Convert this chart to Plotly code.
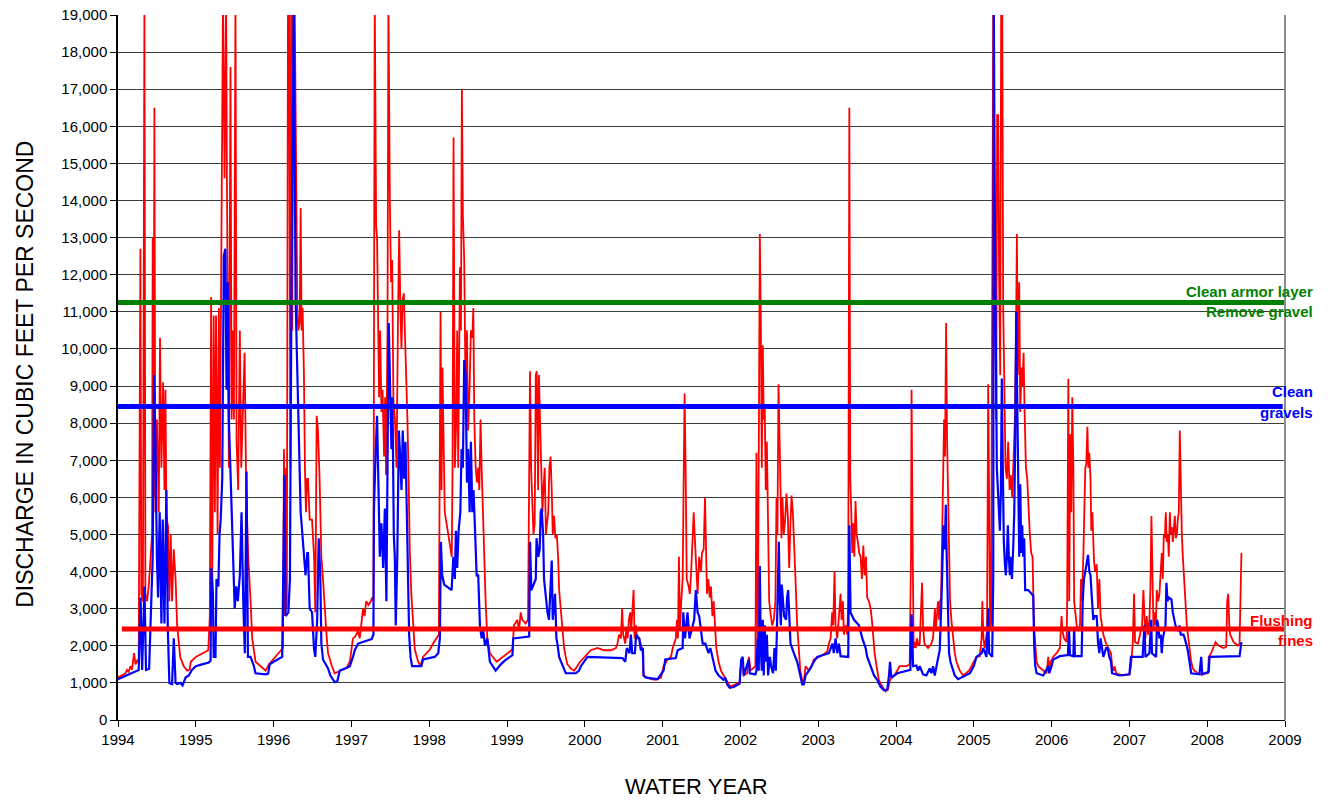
import plotly.graph_objects as go

# ---------------- data ----------------
# decimal water year, discharge in thousand cubic feet per second
red_year = [
    1994.000, 1994.094, 1994.115, 1994.137, 1994.160, 1994.180, 1994.206, 1994.225, 1994.245, 1994.266,
    1994.288, 1994.300, 1994.320, 1994.340, 1994.352, 1994.373, 1994.395, 1994.416, 1994.438, 1994.446,
    1994.456, 1994.468, 1994.480, 1994.500, 1994.524, 1994.540, 1994.558, 1994.580, 1994.597, 1994.610,
    1994.622, 1994.644, 1994.660, 1994.678, 1994.695, 1994.717, 1994.740, 1994.760, 1994.800, 1994.845,
    1994.890, 1994.920, 1994.936, 1995.000, 1995.080, 1995.160, 1995.180, 1995.197, 1995.210, 1995.230,
    1995.245, 1995.260, 1995.280, 1995.296, 1995.310, 1995.326, 1995.350, 1995.370, 1995.390, 1995.400,
    1995.425, 1995.446, 1995.460, 1995.476, 1995.490, 1995.510, 1995.524, 1995.545, 1995.566, 1995.584,
    1995.605, 1995.627, 1995.648, 1995.674, 1995.704, 1995.725, 1995.768, 1995.833, 1995.897, 1995.940,
    1996.026, 1996.110, 1996.120, 1996.133, 1996.146, 1996.160, 1996.170, 1996.185, 1996.200, 1996.215,
    1996.227, 1996.240, 1996.253, 1996.270, 1996.290, 1996.305, 1996.318, 1996.335, 1996.348, 1996.360,
    1996.373, 1996.390, 1996.403, 1996.416, 1996.430, 1996.442, 1996.464, 1996.494, 1996.520, 1996.536,
    1996.554, 1996.570, 1996.590, 1996.614, 1996.635, 1996.657, 1996.680, 1996.700, 1996.720, 1996.750,
    1996.785, 1996.850, 1996.936, 1996.980, 1997.020, 1997.050, 1997.086, 1997.107, 1997.130, 1997.150,
    1997.170, 1997.190, 1997.220, 1997.250, 1997.266, 1997.283, 1997.300, 1997.318, 1997.330, 1997.343,
    1997.356, 1997.370, 1997.386, 1997.400, 1997.420, 1997.433, 1997.446, 1997.464, 1997.476, 1997.494,
    1997.510, 1997.524, 1997.540, 1997.560, 1997.580, 1997.600, 1997.614, 1997.630, 1997.644, 1997.657,
    1997.674, 1997.687, 1997.704, 1997.720, 1997.738, 1997.750, 1997.770, 1997.794, 1997.815, 1997.858,
    1997.888, 1997.920, 1997.966, 1998.009, 1998.050, 1998.094, 1998.124, 1998.146, 1998.159, 1998.170,
    1998.185, 1998.200, 1998.245, 1998.290, 1998.300, 1998.313, 1998.330, 1998.348, 1998.360, 1998.373,
    1998.395, 1998.408, 1998.420, 1998.433, 1998.450, 1998.468, 1998.485, 1998.500, 1998.520, 1998.536,
    1998.554, 1998.567, 1998.580, 1998.597, 1998.614, 1998.630, 1998.644, 1998.660, 1998.674, 1998.690,
    1998.704, 1998.725, 1998.747, 1998.780, 1998.867, 1998.953, 1999.070, 1999.090, 1999.133, 1999.155,
    1999.176, 1999.197, 1999.240, 1999.270, 1999.283, 1999.296, 1999.310, 1999.326, 1999.340, 1999.356,
    1999.370, 1999.382, 1999.400, 1999.410, 1999.425, 1999.440, 1999.455, 1999.468, 1999.485, 1999.500,
    1999.530, 1999.545, 1999.560, 1999.575, 1999.588, 1999.605, 1999.622, 1999.640, 1999.657, 1999.670,
    1999.690, 1999.717, 1999.734, 1999.755, 1999.777, 1999.820, 1999.863, 1999.940, 2000.013, 2000.077,
    2000.163, 2000.250, 2000.335, 2000.400, 2000.420, 2000.440, 2000.464, 2000.480, 2000.494, 2000.520,
    2000.532, 2000.550, 2000.567, 2000.584, 2000.596, 2000.627, 2000.640, 2000.657, 2000.670, 2000.700,
    2000.742, 2000.755, 2000.850, 2000.914, 2000.980, 2001.013, 2001.064, 2001.107, 2001.130, 2001.170,
    2001.185, 2001.197, 2001.210, 2001.223, 2001.240, 2001.258, 2001.270, 2001.283, 2001.296, 2001.310,
    2001.335, 2001.350, 2001.365, 2001.386, 2001.400, 2001.412, 2001.425, 2001.450, 2001.470, 2001.494,
    2001.506, 2001.528, 2001.545, 2001.558, 2001.570, 2001.588, 2001.605, 2001.622, 2001.640, 2001.657,
    2001.674, 2001.690, 2001.720, 2001.750, 2001.785, 2001.830, 2001.870, 2001.957, 2001.990, 2002.010,
    2002.030, 2002.043, 2002.086, 2002.110, 2002.130, 2002.193, 2002.206, 2002.223, 2002.236, 2002.250,
    2002.262, 2002.275, 2002.288, 2002.300, 2002.313, 2002.326, 2002.340, 2002.352, 2002.370, 2002.386,
    2002.408, 2002.430, 2002.450, 2002.464, 2002.476, 2002.490, 2002.502, 2002.515, 2002.528, 2002.540,
    2002.558, 2002.575, 2002.592, 2002.610, 2002.627, 2002.644, 2002.657, 2002.674, 2002.687, 2002.708,
    2002.730, 2002.750, 2002.770, 2002.794, 2002.815, 2002.837, 2002.880, 2002.923, 2002.944, 2003.030,
    2003.116, 2003.137, 2003.160, 2003.180, 2003.193, 2003.210, 2003.223, 2003.245, 2003.266, 2003.288,
    2003.300, 2003.318, 2003.330, 2003.352, 2003.373, 2003.386, 2003.400, 2003.412, 2003.425, 2003.438,
    2003.450, 2003.464, 2003.480, 2003.494, 2003.510, 2003.528, 2003.545, 2003.562, 2003.580, 2003.596,
    2003.614, 2003.630, 2003.652, 2003.674, 2003.690, 2003.708, 2003.725, 2003.750, 2003.780, 2003.824,
    2003.867, 2003.897, 2003.923, 2003.996, 2004.047, 2004.133, 2004.176, 2004.193, 2004.200, 2004.215,
    2004.227, 2004.240, 2004.253, 2004.270, 2004.288, 2004.305, 2004.320, 2004.335, 2004.348, 2004.365,
    2004.412, 2004.455, 2004.476, 2004.500, 2004.510, 2004.524, 2004.540, 2004.554, 2004.567, 2004.580,
    2004.592, 2004.605, 2004.618, 2004.630, 2004.644, 2004.657, 2004.670, 2004.682, 2004.695, 2004.712,
    2004.734, 2004.755, 2004.777, 2004.820, 2004.863, 2004.940, 2005.000, 2005.034, 2005.077, 2005.100,
    2005.110, 2005.124, 2005.140, 2005.170, 2005.185, 2005.197, 2005.210, 2005.223, 2005.236, 2005.250,
    2005.262, 2005.275, 2005.288, 2005.300, 2005.313, 2005.326, 2005.340, 2005.352, 2005.365, 2005.378,
    2005.390, 2005.408, 2005.425, 2005.442, 2005.460, 2005.476, 2005.494, 2005.510, 2005.528, 2005.540,
    2005.554, 2005.567, 2005.584, 2005.597, 2005.614, 2005.627, 2005.640, 2005.652, 2005.670, 2005.687,
    2005.704, 2005.720, 2005.738, 2005.755, 2005.773, 2005.790, 2005.807, 2005.828, 2005.893, 2005.936,
    2005.957, 2005.970, 2005.987, 2006.020, 2006.064, 2006.107, 2006.128, 2006.140, 2006.160, 2006.193,
    2006.200, 2006.215, 2006.227, 2006.240, 2006.253, 2006.266, 2006.280, 2006.290, 2006.310, 2006.322,
    2006.343, 2006.365, 2006.378, 2006.390, 2006.408, 2006.420, 2006.433, 2006.446, 2006.460, 2006.472,
    2006.485, 2006.500, 2006.510, 2006.524, 2006.536, 2006.545, 2006.558, 2006.580, 2006.596, 2006.614,
    2006.630, 2006.665, 2006.700, 2006.734, 2006.764, 2006.777, 2006.794, 2006.810, 2006.828, 2006.914,
    2007.000, 2007.020, 2007.043, 2007.060, 2007.073, 2007.110, 2007.150, 2007.163, 2007.180, 2007.193,
    2007.206, 2007.223, 2007.240, 2007.257, 2007.270, 2007.283, 2007.296, 2007.310, 2007.322, 2007.340,
    2007.352, 2007.370, 2007.386, 2007.403, 2007.416, 2007.430, 2007.442, 2007.455, 2007.468, 2007.480,
    2007.494, 2007.506, 2007.520, 2007.532, 2007.545, 2007.558, 2007.570, 2007.584, 2007.596, 2007.610,
    2007.622, 2007.635, 2007.648, 2007.660, 2007.674, 2007.687, 2007.704, 2007.720, 2007.738, 2007.755,
    2007.773, 2007.794, 2007.815, 2007.837, 2007.900, 2008.010, 2008.020, 2008.050, 2008.107, 2008.150,
    2008.210, 2008.245, 2008.257, 2008.270, 2008.283, 2008.296, 2008.340, 2008.395, 2008.416, 2008.430,
    2008.440,
]
red_kcfs = [
    1.15, 1.25, 1.35, 1.30, 1.45, 1.35, 1.80, 1.50, 1.60, 1.55,
    12.7, 3.4, 3.2, 19.5, 3.4, 3.2, 3.6, 4.4, 5.0, 13.0,
    6.0, 16.5, 5.6, 8.1, 5.6, 10.3, 6.8, 9.1, 6.2, 8.9,
    5.5, 5.2, 3.2, 5.0, 3.2, 4.6, 3.8, 2.55, 1.7, 1.45,
    1.33, 1.35, 1.57, 1.70, 1.80, 1.88, 2.8, 11.4, 3.2, 10.9,
    5.6, 10.9, 5.0, 11.1, 6.8, 11.2, 19.5, 14.6, 19.5, 14.6,
    6.8, 17.6, 8.1, 10.5, 8.1, 19.5, 7.5, 6.2, 10.5, 6.8,
    8.1, 9.9, 6.2, 4.4, 3.2, 2.2, 1.57, 1.45, 1.33, 1.5,
    1.7, 1.9, 1.94, 7.3, 2.8, 6.8, 3.0, 19.5, 19.5, 6.8,
    19.5, 10.5, 19.5, 19.5, 13.8, 11.1, 10.5, 10.7, 13.8, 10.5,
    11.1, 9.3, 6.8, 5.6, 6.5, 6.5, 5.4, 5.4, 4.4, 2.9,
    8.2, 7.8, 6.6, 4.4, 3.8, 3.0, 2.3, 1.8, 1.63, 1.45,
    1.26, 1.33, 1.4, 1.57, 2.2, 2.25, 2.4, 2.2, 2.7, 3.0,
    2.8, 3.2, 3.1, 3.2, 3.3, 3.2, 19.5, 13.3, 13.0, 10.5,
    8.7, 10.5, 8.3, 8.9, 7.1, 8.7, 6.6, 10.5, 19.5, 14.0,
    11.8, 12.4, 8.6, 8.1, 6.8, 11.0, 13.2, 11.0, 10.0, 11.3,
    11.5, 10.5, 9.3, 8.1, 6.2, 4.6, 3.4, 2.55, 1.9, 1.57,
    1.45, 1.7, 1.8, 1.9, 2.06, 2.2, 2.3, 11.0, 6.2, 9.5,
    6.8, 5.6, 5.0, 4.4, 6.8, 15.7, 6.8, 8.1, 10.5, 6.8,
    12.2, 10.5, 17.0, 13.6, 12.4, 8.7, 10.5, 7.8, 9.0, 10.5,
    10.3, 11.1, 8.1, 6.8, 6.4, 6.8, 6.2, 8.1, 6.8, 5.6,
    4.7, 3.2, 2.2, 1.8, 1.57, 1.7, 1.9, 2.55, 2.7, 2.4,
    2.9, 2.7, 2.6, 2.7, 6.35, 9.4, 6.8, 5.9, 5.0, 5.3,
    9.3, 9.4, 6.2, 9.3, 8.1, 6.8, 5.6, 6.2, 6.8, 5.0,
    5.6, 6.8, 7.1, 6.2, 5.0, 5.5, 4.9, 5.0, 4.4, 3.5,
    3.0, 2.4, 1.94, 1.7, 1.5, 1.39, 1.33, 1.57, 1.75, 1.88,
    1.94, 1.88, 1.88, 1.94, 2.06, 2.3, 2.2, 3.0, 2.3, 2.06,
    2.4, 2.2, 2.7, 2.9, 2.4, 3.5, 2.2, 2.55, 2.2, 2.2,
    1.88, 1.2, 1.1, 1.08, 1.14, 1.45, 1.63, 1.7, 1.94, 2.2,
    2.7, 2.2, 4.4, 2.4, 3.2, 3.8, 6.35, 8.8, 6.8, 3.8,
    3.6, 3.4, 3.9, 5.0, 5.6, 5.0, 4.4, 3.4, 4.4, 4.0,
    4.5, 4.6, 6.0, 4.1, 3.4, 3.8, 3.3, 3.6, 2.8, 3.2,
    2.55, 1.94, 1.57, 1.33, 1.2, 1.02, 0.9, 0.98, 1.02, 1.57,
    1.63, 1.2, 1.26, 1.7, 1.33, 1.45, 7.2, 1.7, 8.2, 13.1,
    10.9, 6.8, 10.1, 8.1, 8.45, 6.2, 7.5, 5.0, 3.2, 2.9,
    2.55, 2.7, 3.2, 6.0, 5.0, 9.05, 7.5, 5.6, 4.9, 6.0,
    5.0, 5.4, 6.1, 5.5, 4.1, 5.3, 6.05, 5.6, 5.0, 3.8,
    2.55, 1.8, 1.33, 1.08, 1.02, 1.45, 1.33, 1.5, 1.63, 1.72,
    1.84, 2.06, 2.2, 2.9, 2.55, 4.0, 2.55, 2.2, 2.8, 3.4,
    2.7, 3.2, 2.3, 2.55, 2.3, 3.2, 16.5, 6.5, 5.6, 4.5,
    5.3, 4.4, 5.9, 5.0, 4.8, 4.5, 4.4, 3.8, 4.7, 3.9,
    4.4, 3.3, 3.2, 3.0, 2.7, 2.2, 1.8, 1.45, 1.08, 0.9,
    0.77, 0.82, 1.08, 1.26, 1.45, 1.45, 1.5, 4.5, 8.9, 4.5,
    1.94, 2.1, 1.94, 2.2, 2.0, 2.06, 2.8, 3.7, 2.55, 2.06,
    1.94, 2.06, 2.2, 3.0, 2.4, 2.9, 3.2, 2.7, 3.2, 3.3,
    5.0, 7.1, 8.1, 7.1, 10.7, 7.5, 5.6, 3.8, 3.2, 2.7,
    2.2, 1.8, 1.57, 1.33, 1.2, 1.33, 1.57, 1.7, 1.72, 2.2,
    3.2, 2.2, 1.94, 2.4, 9.05, 5.6, 2.4, 2.7, 13.7, 19.5,
    15.4, 11.8, 8.1, 16.3, 16.3, 11.8, 9.3, 19.5, 19.5, 11.1,
    8.7, 6.8, 6.5, 7.5, 6.2, 6.6, 6.0, 6.8, 8.1, 9.9,
    13.1, 9.3, 11.8, 8.3, 9.5, 9.0, 9.9, 8.4, 6.8, 6.5,
    5.6, 5.0, 4.5, 4.4, 2.55, 1.94, 1.57, 1.45, 1.33, 1.26,
    1.7, 1.39, 1.57, 1.7, 1.8, 1.94, 2.8, 2.4, 2.2, 2.1,
    3.2, 9.2, 3.2, 7.7, 5.6, 8.7, 6.8, 3.2, 2.8, 2.55,
    2.4, 2.55, 3.8, 3.2, 4.4, 5.9, 6.8, 6.9, 7.9, 6.8,
    7.2, 6.5, 5.1, 5.6, 4.4, 4.3, 4.0, 4.2, 3.0, 3.8,
    2.8, 2.3, 2.06, 1.94, 1.8, 1.45, 1.33, 1.45, 1.26, 1.2,
    1.23, 1.45, 2.06, 3.4, 2.1, 2.06, 2.4, 2.55, 3.5, 2.55,
    2.2, 2.8, 2.3, 2.7, 3.5, 5.5, 3.2, 2.4, 2.9, 2.55,
    3.5, 3.2, 3.4, 3.9, 4.5, 3.8, 5.0, 4.9, 5.6, 4.8,
    5.0, 4.4, 5.6, 5.0, 5.2, 4.8, 5.2, 5.5, 4.9, 5.0,
    5.4, 5.6, 7.8, 6.2, 5.0, 4.4, 3.9, 3.2, 2.55, 2.2,
    1.94, 1.57, 1.39, 1.33, 1.23, 1.26, 1.7, 1.8, 2.1, 2.0,
    1.94, 1.97, 3.2, 3.4, 2.6, 2.3, 2.1, 2.0, 2.06, 4.0,
    4.5,
]

blue_year = [
    1994.000, 1994.180, 1994.266, 1994.290, 1994.310, 1994.340, 1994.360, 1994.400, 1994.430, 1994.446,
    1994.464, 1994.480, 1994.500, 1994.515, 1994.536, 1994.558, 1994.575, 1994.597, 1994.610, 1994.622,
    1994.640, 1994.660, 1994.695, 1994.717, 1994.740, 1994.760, 1994.800, 1994.830, 1994.870, 1994.910,
    1994.950, 1995.000, 1995.080, 1995.167, 1995.190, 1995.200, 1995.220, 1995.230, 1995.253, 1995.266,
    1995.290, 1995.305, 1995.320, 1995.340, 1995.360, 1995.380, 1995.395, 1995.410, 1995.425, 1995.446,
    1995.468, 1995.490, 1995.500, 1995.520, 1995.540, 1995.566, 1995.588, 1995.610, 1995.630, 1995.652,
    1995.670, 1995.704, 1995.747, 1995.768, 1995.897, 1995.930, 1995.950, 1996.000, 1996.110, 1996.140,
    1996.155, 1996.190, 1996.210, 1996.230, 1996.260, 1996.283, 1996.305, 1996.326, 1996.348, 1996.370,
    1996.390, 1996.410, 1996.433, 1996.442, 1996.464, 1996.494, 1996.520, 1996.536, 1996.560, 1996.580,
    1996.600, 1996.614, 1996.635, 1996.670, 1996.700, 1996.730, 1996.785, 1996.820, 1996.850, 1996.936,
    1996.980, 1997.020, 1997.043, 1997.086, 1997.170, 1997.260, 1997.283, 1997.290, 1997.313, 1997.330,
    1997.343, 1997.365, 1997.386, 1997.408, 1997.430, 1997.450, 1997.464, 1997.480, 1997.500, 1997.515,
    1997.528, 1997.545, 1997.558, 1997.570, 1997.590, 1997.610, 1997.627, 1997.644, 1997.660, 1997.678,
    1997.695, 1997.712, 1997.730, 1997.742, 1997.760, 1997.780, 1997.900, 1997.920, 1998.070, 1998.116,
    1998.137, 1998.150, 1998.167, 1998.193, 1998.288, 1998.310, 1998.330, 1998.343, 1998.360, 1998.378,
    1998.400, 1998.416, 1998.433, 1998.450, 1998.468, 1998.485, 1998.500, 1998.520, 1998.536, 1998.554,
    1998.570, 1998.588, 1998.610, 1998.630, 1998.652, 1998.674, 1998.695, 1998.717, 1998.747, 1998.780,
    1998.854, 1998.920, 1998.970, 1999.070, 1999.080, 1999.285, 1999.296, 1999.313, 1999.370, 1999.380,
    1999.403, 1999.420, 1999.433, 1999.446, 1999.464, 1999.476, 1999.500, 1999.520, 1999.540, 1999.560,
    1999.575, 1999.588, 1999.605, 1999.618, 1999.635, 1999.648, 1999.670, 1999.725, 1999.755, 1999.884,
    1999.927, 1999.950, 1999.990, 2000.034, 2000.485, 2000.520, 2000.540, 2000.575, 2000.592, 2000.610,
    2000.644, 2000.660, 2000.700, 2000.720, 2000.747, 2000.755, 2000.785, 2000.936, 2001.013, 2001.034,
    2001.170, 2001.193, 2001.258, 2001.266, 2001.288, 2001.320, 2001.345, 2001.406, 2001.427, 2001.450,
    2001.470, 2001.490, 2001.515, 2001.550, 2001.590, 2001.614, 2001.657, 2001.680, 2001.720, 2001.785,
    2001.807, 2001.830, 2001.863, 2001.914, 2001.990, 2002.010, 2002.030, 2002.043, 2002.107, 2002.120,
    2002.193, 2002.206, 2002.223, 2002.236, 2002.250, 2002.262, 2002.275, 2002.288, 2002.300, 2002.313,
    2002.326, 2002.340, 2002.356, 2002.378, 2002.395, 2002.420, 2002.438, 2002.455, 2002.468, 2002.480,
    2002.494, 2002.506, 2002.520, 2002.532, 2002.562, 2002.588, 2002.600, 2002.614, 2002.627, 2002.644,
    2002.687, 2002.730, 2002.770, 2002.794, 2002.815, 2002.837, 2002.900, 2002.944, 2002.987, 2003.137,
    2003.185, 2003.200, 2003.223, 2003.245, 2003.266, 2003.288, 2003.386, 2003.400, 2003.416, 2003.460,
    2003.524, 2003.567, 2003.610, 2003.630, 2003.674, 2003.717, 2003.760, 2003.800, 2003.845, 2003.888,
    2003.910, 2003.923, 2003.940, 2004.017, 2004.185, 2004.200, 2004.220, 2004.262, 2004.283, 2004.305,
    2004.348, 2004.390, 2004.433, 2004.455, 2004.476, 2004.498, 2004.520, 2004.540, 2004.562, 2004.584,
    2004.597, 2004.610, 2004.627, 2004.640, 2004.652, 2004.670, 2004.682, 2004.700, 2004.717, 2004.755,
    2004.798, 2004.884, 2004.950, 2005.000, 2005.034, 2005.100, 2005.120, 2005.163, 2005.185, 2005.197,
    2005.236, 2005.250, 2005.257, 2005.270, 2005.283, 2005.296, 2005.310, 2005.322, 2005.335, 2005.348,
    2005.360, 2005.373, 2005.386, 2005.400, 2005.412, 2005.425, 2005.438, 2005.450, 2005.464, 2005.476,
    2005.490, 2005.506, 2005.520, 2005.532, 2005.545, 2005.558, 2005.570, 2005.584, 2005.597, 2005.610,
    2005.622, 2005.635, 2005.648, 2005.660, 2005.700, 2005.742, 2005.764, 2005.777, 2005.790, 2005.807,
    2005.893, 2005.957, 2005.970, 2006.000, 2006.020, 2006.107, 2006.210, 2006.223, 2006.236, 2006.280,
    2006.290, 2006.300, 2006.386, 2006.400, 2006.416, 2006.433, 2006.450, 2006.468, 2006.485, 2006.500,
    2006.520, 2006.536, 2006.554, 2006.580, 2006.596, 2006.614, 2006.630, 2006.648, 2006.665, 2006.700,
    2006.720, 2006.742, 2006.764, 2006.777, 2006.870, 2007.000, 2007.020, 2007.170, 2007.193, 2007.206,
    2007.257, 2007.280, 2007.290, 2007.343, 2007.356, 2007.370, 2007.386, 2007.403, 2007.416, 2007.430,
    2007.446, 2007.464, 2007.476, 2007.490, 2007.506, 2007.540, 2007.558, 2007.592, 2007.627, 2007.644,
    2007.660, 2007.695, 2007.712, 2007.750, 2007.773, 2007.794, 2007.900, 2007.923, 2007.936, 2008.020,
    2008.030, 2008.416, 2008.440,
]
blue_kcfs = [
    1.10, 1.26, 1.35, 3.3, 1.35, 3.6, 1.35, 1.38, 3.3, 4.4,
    9.3, 7.6, 4.4, 3.3, 5.6, 2.6, 5.4, 2.6, 4.4, 6.2,
    2.5, 1.0, 0.97, 2.2, 1.0, 0.97, 1.0, 0.93, 1.15, 1.2,
    1.35, 1.45, 1.5, 1.55, 1.6, 4.1, 3.4, 1.7, 1.7, 3.8,
    3.6, 5.0, 5.4, 6.5, 12.5, 12.7, 8.9, 11.8, 8.1, 6.6,
    5.6, 3.5, 3.0, 3.6, 3.2, 3.9, 5.6, 3.2, 1.8, 6.7,
    1.7, 1.7, 1.45, 1.26, 1.23, 1.25, 1.5, 1.57, 1.7, 6.6,
    2.8, 2.9, 3.8, 11.8, 19.5, 11.3, 9.3, 8.1, 5.6, 5.0,
    4.5, 3.9, 4.5, 4.5, 3.0, 2.9, 1.9, 1.7, 2.7, 4.9,
    3.9, 2.06, 1.63, 1.5, 1.39, 1.2, 1.02, 1.05, 1.33, 1.4,
    1.45, 1.7, 1.88, 2.06, 2.12, 2.18, 2.3, 5.7, 7.3, 8.2,
    6.8, 4.4, 5.3, 4.1, 5.7, 3.2, 6.8, 10.7, 8.7, 7.3,
    8.7, 5.0, 4.4, 2.55, 4.4, 7.8, 7.1, 6.2, 7.8, 6.5,
    7.5, 5.9, 3.8, 2.3, 1.7, 1.45, 1.45, 1.63, 1.7, 1.8,
    2.2, 4.8, 3.9, 3.65, 3.5, 4.4, 3.8, 5.1, 4.1, 5.1,
    5.6, 7.3, 6.8, 9.7, 9.3, 6.4, 7.3, 5.6, 7.5, 5.6,
    6.2, 5.3, 3.9, 3.9, 2.55, 2.2, 2.4, 2.0, 2.2, 1.57,
    1.33, 1.5, 1.6, 1.75, 2.2, 2.25, 4.8, 3.5, 3.8, 4.9,
    4.4, 4.6, 5.6, 5.7, 5.0, 3.8, 3.2, 2.9, 2.7, 3.8,
    4.3, 2.7, 3.2, 3.4, 2.2, 2.06, 1.7, 1.39, 1.26, 1.26,
    1.33, 1.45, 1.57, 1.7, 1.67, 1.57, 1.94, 1.8, 2.3, 1.8,
    1.8, 2.3, 2.2, 1.88, 1.94, 1.2, 1.14, 1.1, 1.33, 1.63,
    1.67, 1.88, 1.94, 2.9, 2.2, 2.9, 2.2, 2.7, 3.5, 2.9,
    2.8, 2.4, 2.06, 2.06, 1.8, 1.94, 1.57, 1.33, 1.2, 1.08,
    1.14, 0.96, 0.87, 0.89, 0.98, 1.63, 1.7, 1.2, 1.63, 1.26,
    1.23, 1.33, 2.2, 1.33, 4.15, 1.94, 1.33, 2.7, 1.2, 2.55,
    1.57, 2.3, 1.2, 1.7, 1.45, 1.26, 1.94, 1.33, 2.3, 3.3,
    4.8, 3.2, 2.55, 3.65, 2.8, 2.7, 3.3, 3.5, 2.7, 2.06,
    1.8, 1.57, 1.2, 0.96, 0.96, 1.2, 1.39, 1.57, 1.7, 1.8,
    2.06, 1.8, 2.2, 1.8, 2.06, 1.72, 1.7, 5.25, 2.9, 2.7,
    2.55, 2.2, 1.94, 1.7, 1.45, 1.2, 1.08, 0.9, 0.8, 0.82,
    1.2, 1.57, 1.14, 1.26, 1.35, 2.85, 1.45, 1.47, 1.33, 1.45,
    1.23, 1.2, 1.39, 1.26, 1.45, 1.2, 1.45, 1.7, 1.88, 3.2,
    4.3, 5.25, 4.6, 5.8, 4.4, 3.2, 1.8, 1.57, 1.45, 1.2,
    1.1, 1.2, 1.26, 1.45, 1.7, 1.8, 1.94, 1.7, 3.0, 1.8,
    1.7, 3.8, 19.5, 13.5, 10.5, 6.8, 6.2, 5.6, 5.1, 6.1,
    9.2, 6.8, 4.8, 4.2, 3.9, 4.4, 5.25, 4.4, 3.9, 4.4,
    3.8, 4.6, 5.6, 7.5, 11.0, 8.7, 6.2, 4.4, 6.35, 4.5,
    5.25, 4.4, 4.9, 3.5, 3.5, 3.4, 3.35, 1.94, 1.45, 1.26,
    1.2, 1.45, 1.26, 1.45, 1.63, 1.72, 1.75, 2.5, 1.75, 1.72,
    2.5, 1.72, 1.72, 3.2, 3.8, 4.0, 4.3, 4.45, 4.0, 3.9,
    3.2, 2.7, 2.8, 2.8, 2.1, 1.8, 2.2, 1.94, 1.7, 1.94,
    1.94, 1.7, 1.57, 1.26, 1.2, 1.23, 1.7, 1.7, 2.55, 1.7,
    1.8, 2.7, 1.8, 1.7, 2.7, 2.55, 2.2, 2.3, 1.8, 2.2,
    2.4, 2.55, 3.7, 3.2, 3.3, 3.25, 2.9, 2.55, 2.4, 2.55,
    2.3, 2.3, 2.2, 1.88, 1.57, 1.26, 1.23, 1.7, 1.23, 1.3,
    1.7, 1.72, 2.1,
]

assert len(red_year) == len(red_kcfs), (len(red_year), len(red_kcfs))
assert len(blue_year) == len(blue_kcfs), (len(blue_year), len(blue_kcfs))

year_ticks = list(range(1994, 2010))

# threshold discharges (cfs) and their labels
armor_cfs = 11250
gravel_cfs = 8450
fines_cfs = 2450
armor_labels = ["Clean armor layer", "Remove gravel"]
gravel_labels = ["Clean", "gravels"]
fines_labels = ["Flushing", "fines"]

FONT = "Liberation Sans, Arial, sans-serif"
GREEN = "#008000"
BLUE = "#0000FF"
RED = "#FF0000"

fig = go.Figure()
fig.add_trace(go.Scatter(
    x=red_year, y=[v * 1000 for v in red_kcfs], mode="lines",
    line=dict(color=RED, width=1.8), showlegend=False, hoverinfo="skip"))
fig.add_trace(go.Scatter(
    x=blue_year, y=[v * 1000 for v in blue_kcfs], mode="lines",
    line=dict(color=BLUE, width=2.2), showlegend=False, hoverinfo="skip"))

# threshold lines
for level, color, x0, x1 in [(armor_cfs, GREEN, 1994.0, 2009.0),
                              (gravel_cfs, BLUE, 1994.0, 2008.97),
                              (fines_cfs, RED, 1994.05, 2009.0)]:
    fig.add_shape(type="line", xref="x", yref="y", x0=x0, x1=x1, y0=level, y1=level,
                  line=dict(color=color, width=5), layer="above")

# right frame line
fig.add_shape(type="line", xref="paper", yref="paper", x0=1, x1=1, y0=0, y1=1,
              line=dict(color="#8c8c8c", width=2), layer="above")

# threshold labels
label_x = 1.0257
for texts, color, ys in [(armor_labels, GREEN, [11560, 11000]),
                         (gravel_labels, BLUE, [8840, 8275]),
                         (fines_labels, RED, [2670, 2130])]:
    for t, yv in zip(texts, ys):
        fig.add_annotation(x=label_x, xref="paper", y=yv, yref="y", text="<b>%s</b>" % t,
                           showarrow=False, xanchor="right", yanchor="middle",
                           font=dict(family=FONT, size=15, color=color))

# axis titles as annotations
fig.add_annotation(x=-0.0797, xref="paper", y=0.491, yref="paper",
                   text="DISCHARGE IN CUBIC FEET PER SECOND", textangle=-90,
                   showarrow=False, xanchor="center", yanchor="middle",
                   font=dict(family=FONT, size=23, color="black"))
fig.add_annotation(x=0.496, xref="paper", y=-0.094, yref="paper",
                   text="WATER YEAR", showarrow=False, xanchor="center", yanchor="middle",
                   font=dict(family=FONT, size=22, color="black"))

fig.update_layout(
    width=1330, height=800,
    margin=dict(l=118, r=45, t=15, b=80, autoexpand=False),
    paper_bgcolor="white", plot_bgcolor="white",
    font=dict(family=FONT, size=15, color="black"),
    showlegend=False,
)
fig.update_xaxes(
    range=[1994, 2009], tickvals=year_ticks, ticktext=[str(y) for y in year_ticks],
    ticks="outside", ticklen=6, tickcolor="black", showgrid=False, automargin=False,
    showline=True, linecolor="black", linewidth=1, zeroline=False,
    tickfont=dict(family=FONT, size=15, color="black"))
fig.update_yaxes(
    range=[0, 19000], dtick=1000, tickformat=",d", automargin=False,
    ticks="outside", ticklen=6, tickcolor="black",
    showgrid=True, gridcolor="#3c3c3c", gridwidth=1,
    showline=True, linecolor="black", linewidth=1.5, zeroline=False,
    tickfont=dict(family=FONT, size=15, color="black"))

fig.write_html("out.html")
